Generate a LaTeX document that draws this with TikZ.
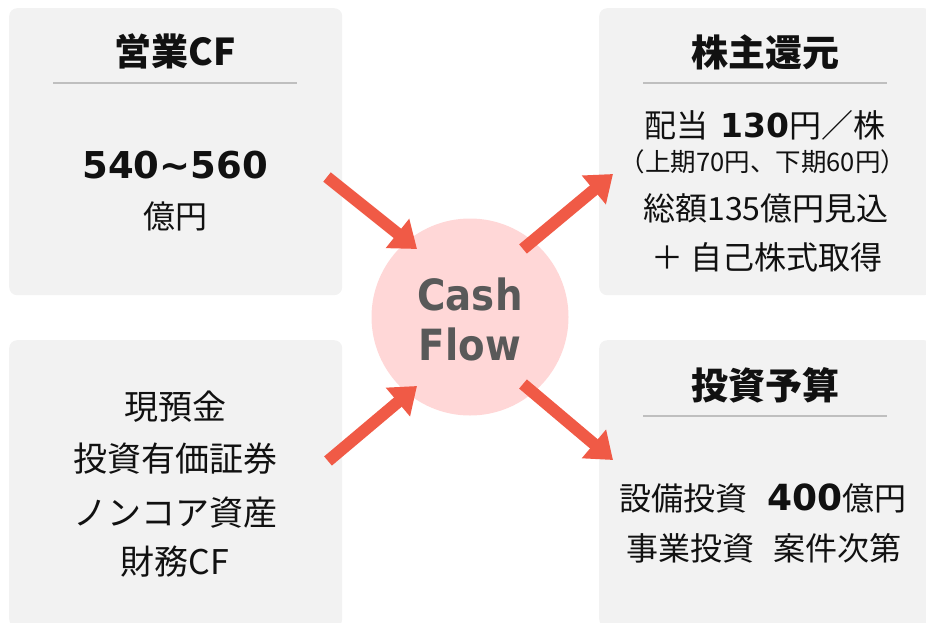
\documentclass[tikz,border=0pt]{standalone}
\usepackage{fontspec}
\setmainfont{Noto Sans CJK JP}
\newfontfamily\numfont{DejaVu Sans}
\newfontfamily\cashfont{DejaVu Sans}[FakeStretch=0.9]
\usetikzlibrary{arrows.meta}
\definecolor{boxgray}{HTML}{F2F2F2}
\definecolor{rulegray}{HTML}{BFBFBF}
\definecolor{pinkfill}{HTML}{FFD7D7}
\definecolor{arrowred}{HTML}{F05A46}
\definecolor{cashgray}{HTML}{595959}
\definecolor{inkblack}{HTML}{111111}
\tikzset{
  panel/.style={fill=boxgray, rounded corners=8pt, inner sep=0pt, anchor=north west, minimum width=333pt, minimum height=287pt},
  titleline/.style={draw=rulegray, line width=2.2pt},
  ttl/.style={inner sep=0pt, text=inkblack, font=\fontsize{37}{42}\selectfont\bfseries},
  body/.style={inner sep=0pt, text=inkblack, font=\fontsize{32}{38}\selectfont},
  bodyL/.style={inner sep=0pt, text=inkblack, font=\fontsize{34}{40}\selectfont},
  small/.style={inner sep=0pt, text=inkblack, font=\fontsize{25.5}{30}\selectfont},
  flow/.style={draw=arrowred, line width=12pt, -{Triangle[length=25pt,width=36pt]}},
}
\begin{document}
\begin{tikzpicture}[x=1pt,y=-1pt]
\useasboundingbox (0,0) rectangle (926,622);
% panels
\node[panel] (tl) at (9,8) {};
\node[panel] (bl) at (9,340) {};
\node[panel] (tr) at (599,8) {};
\node[panel] (br) at (599,340) {};
% circle
\node[circle, fill=pinkfill, minimum size=197pt, inner sep=0pt] (cf) at (470,317) {};
\node[inner sep=0pt, text=cashgray, align=center, font=\cashfont\bfseries\fontsize{43}{50}\selectfont] (cftext) at (470,319) {Cash\\Flow};
% title rules
\coordinate (tlA) at (53,83); \coordinate (tlB) at (297,83);
\coordinate (trA) at (643,83); \coordinate (trB) at (887,83);
\coordinate (brA) at (643,416); \coordinate (brB) at (887,416);
\draw[titleline] (tlA) -- (tlB);
\draw[titleline] (trA) -- (trB);
\draw[titleline] (brA) -- (brB);
% top-left
\node[ttl] (t1) at (175,51) {営業CF};
\node[inner sep=0pt, text=inkblack, font=\numfont\bfseries\fontsize{37}{42}\selectfont] (n1) at (175,165) {540\char"007E 560};
\node[body] (u1) at (175,216) {億円};
% top-right
\node[ttl] (t2) at (765,52) {株主還元};
\node[body] (r1) at (765,125) {配当\hspace{0.35em}{\numfont\bfseries\fontsize{33}{38}\selectfont 130}円／株};
\node[small] (r2) at (763,162) {（上期70円、下期60円）};
\node[body] (r3) at (766,208) {総額135億円見込};
\node[body] (r4) at (767,257) {＋ 自己株式取得};
% bottom-left
\node[bodyL] (l1) at (175,407) {現預金};
\node[bodyL] (l2) at (175,459) {投資有価証券};
\node[bodyL] (l3) at (175,513) {ノンコア資産};
\node[bodyL] (l4) at (175,562) {財務CF};
% bottom-right
\node[ttl] (t3) at (765,385) {投資予算};
\node[body] (b1) at (763,498) {設備投資\hspace{0.6em}{\numfont\bfseries\fontsize{36}{40}\selectfont 400}億円};
\node[body] (b2) at (764,548) {事業投資\hspace{0.6em}案件次第};
% arrows
\coordinate (a1s) at (327,177); \coordinate (a1e) at (417,249);
\coordinate (a2s) at (523,249); \coordinate (a2e) at (613,174);
\coordinate (a3s) at (328,461); \coordinate (a3e) at (417,386);
\coordinate (a4s) at (523,384); \coordinate (a4e) at (613,460);
\draw[flow] (a1s) -- (a1e);
\draw[flow] (a2s) -- (a2e);
\draw[flow] (a3s) -- (a3e);
\draw[flow] (a4s) -- (a4e);
\end{tikzpicture}
\end{document}
